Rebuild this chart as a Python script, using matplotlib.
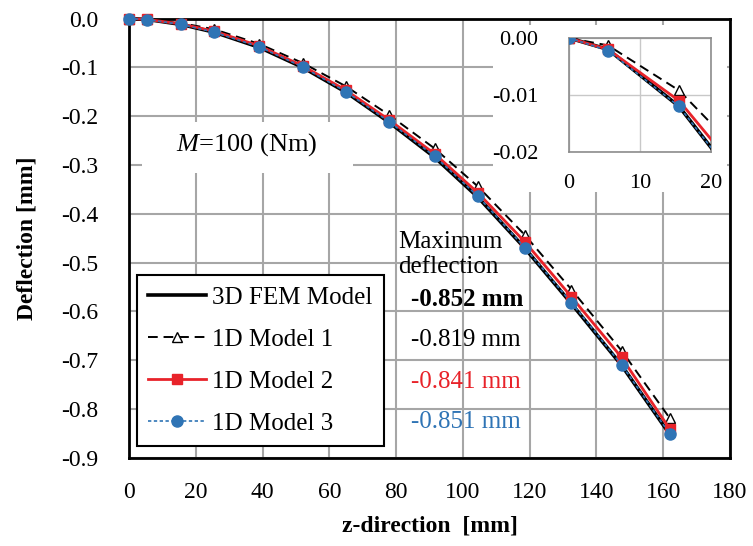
import numpy as np
import matplotlib
matplotlib.use('Agg')
import matplotlib.pyplot as plt
from matplotlib.patches import Rectangle

plt.rcParams.update({
    'font.family': 'Liberation Serif',
    'mathtext.fontset': 'custom',
    'mathtext.rm': 'Liberation Serif',
    'mathtext.it': 'Liberation Serif:italic',
    'axes.unicode_minus': False,
})

# ---------------------------------------------------------------------------
# Deflection along the beam, M = 100 Nm
# ---------------------------------------------------------------------------
z_mm = [0, 5.5, 15.5, 25.5, 39, 52, 65, 78, 91.5, 104.5, 118.5, 132.5, 147.5, 162]

defl_fem = [0, -0.002, -0.012, -0.028, -0.059, -0.100, -0.151, -0.213,
            -0.284, -0.366, -0.470, -0.584, -0.710, -0.852]
defl_m1 = [0, -0.0013, -0.0092, -0.022, -0.052, -0.091, -0.139, -0.198,
           -0.266, -0.344, -0.443, -0.555, -0.680, -0.819]
defl_m2 = [0, -0.002, -0.011, -0.026, -0.056, -0.097, -0.147, -0.208,
           -0.277, -0.357, -0.457, -0.570, -0.694, -0.841]
defl_m3 = [0, -0.0022, -0.012, -0.028, -0.058, -0.099, -0.150, -0.212,
           -0.282, -0.364, -0.469, -0.582, -0.709, -0.851]

labels = ['3D FEM Model', '1D Model 1', '1D Model 2', '1D Model 3']
max_text = ['-0.852 mm', '-0.819 mm', '-0.841 mm', '-0.851 mm']

RED = '#e8232a'
BLUE = '#2f74b5'
GRID = '#a6a6a6'

series = [
    (defl_fem, dict(color='k', lw=2.6, ls='-')),
    (defl_m1, dict(color='k', lw=1.4, ls=(0, (5, 3)), marker='^', ms=7,
                   mfc='white', mec='k', mew=1.0)),
    (defl_m2, dict(color=RED, lw=2.0, ls='-', marker='s', ms=7,
                   mfc=RED, mec=RED)),
    (defl_m3, dict(color=BLUE, lw=1.2, ls=(0, (2, 1.5)), marker='o', ms=8,
                   mfc=BLUE, mec=BLUE)),
]

fig = plt.figure(figsize=(7.53, 5.46), dpi=100)
ax = fig.add_axes([0.1713, 0.1612, 0.7982, 0.8049])
ax.set_axisbelow(True)

for (y, st), lab in zip(series, labels):
    ax.plot(z_mm, y, label=lab, clip_on=False, zorder=3, **st)

yt = np.round(np.arange(-0.9, 0.01, 0.1), 1)
ax.set_xlim(0, 180)
ax.set_ylim(-0.9, 0.0)
ax.set_xticks(np.arange(0, 181, 20))
ax.set_yticks(yt)
ax.set_yticklabels([f'{v:.1f}' if v != 0 else '0.0' for v in yt])
ax.tick_params(axis='x', length=0, pad=17, labelsize=17)
ax.tick_params(axis='y', length=0, pad=22, labelsize=17)
ax.grid(True, color=GRID, lw=1.5)
for sp in ax.spines.values():
    sp.set_linewidth(2.0)
    sp.set_color('black')

ax.set_xlabel('z-direction  [mm]', fontsize=17, fontweight='bold', labelpad=9)
ax.set_ylabel('Deflection [mm]', fontsize=17, fontweight='bold', labelpad=17)

# white patches behind the load label and the zoomed view
ax.add_patch(Rectangle((3.9, -0.316), 63.2, 0.104, facecolor='white',
                       edgecolor='none', zorder=1))
ax.add_patch(Rectangle((0.606, 0.605), 0.389, 0.380, transform=ax.transAxes,
                       facecolor='white', edgecolor='none', zorder=1))
ax.text(35.3, -0.259, r'$M$=100 (Nm)', fontsize=19, ha='center', va='center',
        zorder=2)

leg = ax.legend(loc='upper left', bbox_to_anchor=(0.0133, 0.416),
                borderaxespad=0, fontsize=18, handlelength=2.3,
                handletextpad=0.25, labelspacing=0.78, borderpad=0.45,
                fancybox=False, edgecolor='black', framealpha=1)
leg.get_frame().set_linewidth(1.5)

# maximum deflection values
ax.text(80.5, -0.483, 'Maximum\ndeflection', fontsize=18, ha='left',
        va='center', linespacing=1.15)
txt_colors = ['black', 'black', RED, BLUE]
txt_weights = ['bold', 'normal', 'normal', 'normal']
txt_y = [-0.576, -0.658, -0.744, -0.827]
for s, c, w, yy in zip(max_text, txt_colors, txt_weights, txt_y):
    ax.text(84.5, yy, s, fontsize=18, color=c, fontweight=w,
            ha='left', va='center')

# zoomed view of the first 20 mm
ins = fig.add_axes([0.7556, 0.7216, 0.1886, 0.2088])
for (y, st), lab in zip(series, labels):
    ins.plot(z_mm, y, zorder=3, **st)
ins.set_xlim(0, 20)
ins.set_ylim(-0.02, 0.0)
ins.set_xticks([0, 10, 20])
ins.set_yticks([0.0, -0.01, -0.02])
ins.set_yticklabels(['0.00', '-0.01', '-0.02'])
ins.tick_params(length=0, labelsize=16)
ins.tick_params(axis='y', pad=22)
ins.tick_params(axis='x', pad=16)
ins.grid(True, color='#c8c8c8', lw=1.0)
ins.set_axisbelow(True)
for sp in ins.spines.values():
    sp.set_linewidth(1.2)
    sp.set_color('#8c8c8c')

fig.savefig('out.png', dpi=100)
